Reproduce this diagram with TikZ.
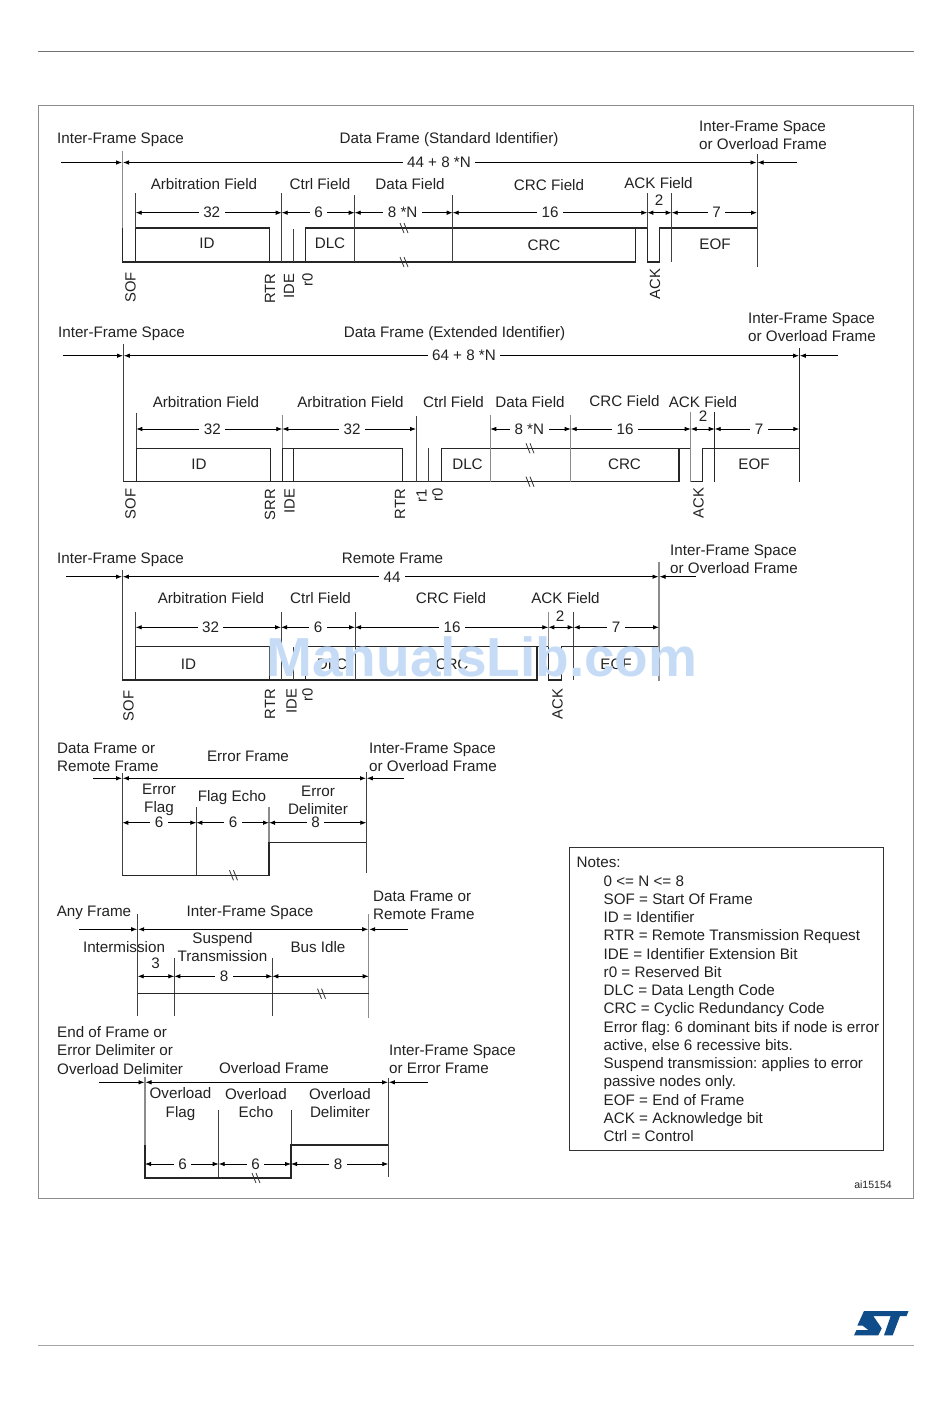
\documentclass[tikz,border=0pt]{standalone}
\usepackage{fontspec}
\setmainfont{Liberation Sans}
\usetikzlibrary{arrows.meta}
\frenchspacing

\definecolor{inkgray}{HTML}{222222}
\definecolor{stblue}{HTML}{0F4C8A}
\definecolor{wmblue}{HTML}{C6DCF6}
\tikzset{
  lbase/.style={inner sep=0pt, text=inkgray, font=\fontsize{15.2}{18.25}\selectfont},
  lbl/.style={lbase, text height=11pt, text depth=0pt},
  lblm/.style={lbase, align=center},
  lbll/.style={lbase, align=left, anchor=west, yshift=-0.5pt},
  num/.style={lbl, fill=white, inner xsep=4.5pt, inner ysep=1pt},
  vlbl/.style={lbl, rotate=90, anchor=east, xshift=-0.7pt, font=\fontsize{14.8}{17}\selectfont},
  sig/.style={line width=1.2pt, draw=black!85},
  tick/.style={line width=1pt, draw=black!75},
  tickg/.style={line width=1.2pt, draw=black!45},
  dim/.style={line width=0.8pt, draw=black, {Latex[length=6pt,width=4.5pt]}-{Latex[length=6pt,width=4.5pt]}},
  dimr/.style={line width=0.8pt, draw=black, -{Latex[length=6pt,width=4.5pt]}},
  brk/.style={line width=0.8pt, draw=black!80}
}
\newcommand{\brkmark}[2]{\draw[brk] (#1-3,#2-5) -- ++(4,10); \draw[brk] (#1+1,#2-5) -- ++(4,10);}

\begin{document}
\begin{tikzpicture}[x=1pt, y=-1pt]
    \useasboundingbox (0,0) rectangle (950,1420);
    \fill[white] (0,0) rectangle (950,1420);
    % page rules and frame
    \draw[line width=1pt, black!55] (38,51.5) -- (914,51.5);
    \draw[line width=1pt, black!35] (38,1345) -- (914,1345);
    \draw[line width=0.8pt, black!45] (38.5,105) rectangle (913.5,1198);

    % data frame, standard identifier
    \draw[tickg] (122.5,151) -- (122.5,228);
    \draw[sig] (122.5,228) -- (122.5,262) -- (135.7,262);
    \draw[sig] (135.7,262) -- (135.7,228) -- (269.7,228) -- (269.7,262);
    \draw[sig] (135.7,262) -- (635.3,262) -- (635.3,228);
    \draw[sig] (305.7,262) -- (305.7,228) -- (647.3,228) -- (647.3,262) -- (659.7,262) -- (659.7,228) -- (757,228);
    \draw[tick] (135.7,193) -- (135.7,228);
    \draw[tick] (281.7,193) -- (281.7,262);
    \draw[tick] (293.7,229) -- (293.7,262);
    \draw[tick] (354.7,195) -- (354.7,262);
    \draw[tick] (452.7,195) -- (452.7,262);
    \draw[tick] (647.3,193) -- (647.3,228);
    \draw[tick] (671.7,193) -- (671.7,262);
    \draw[tick] (757,154) -- (757,267);
    \brkmark{403}{228}
    \brkmark{403}{262}
    \draw[dimr] (61,162.5) -- (122,162.5);
    \draw[dim] (123,162.5) -- (756.5,162.5);
    \draw[dimr] (797,162.5) -- (757.5,162.5);
    \draw[dim] (135.7,212.7) -- (281.7,212.7);
    \draw[dim] (281.7,212.7) -- (354.7,212.7);
    \draw[dim] (354.7,212.7) -- (452.7,212.7);
    \draw[dim] (452.7,212.7) -- (647.3,212.7);
    \draw[dim] (647.3,212.7) -- (671.7,212.7);
    \draw[dim] (671.7,212.7) -- (757,212.7);
    \node[num] (lenA) at (439,162) {44 + 8 *N};
    \node[num] (arbA) at (211.7,212) {32};
    \node[num] (ctlA) at (318.7,212) {6};
    \node[num] (datA) at (402.7,212) {8 *N};
    \node[num] (crcA) at (550,212) {16};
    \node[lbl] (ackA) at (659,200) {2};
    \node[num] (eofA) at (716.7,212) {7};
    \node[lbl] (prevA) at (120.5,138) {Inter-Frame Space};
    \node[lbl] (nameA) at (449,138) {Data Frame (Standard Identifier)};
    \node[lbll] (nextA) at (699,134.5) {Inter-Frame Space\\or Overload Frame};
    \node[lbl] (farbA) at (204,184) {Arbitration Field};
    \node[lbl] (fctlA) at (320,184) {Ctrl Field};
    \node[lbl] (fdatA) at (410,184) {Data Field};
    \node[lbl] (fcrcA) at (549,185) {CRC Field};
    \node[lbl] (fackA) at (658.5,183) {ACK Field};
    \node[lbl] (idA) at (207,243) {ID};
    \node[lbl] (dlcA) at (330,243) {DLC};
    \node[lbl] (crA) at (544,245.5) {CRC};
    \node[lbl] (efA) at (715,244) {EOF};
    \node[vlbl] (sofA) at (130,271.5) {SOF};
    \node[vlbl] (rtrA) at (269.5,272.5) {RTR};
    \node[vlbl] (ideA) at (288.5,273) {IDE};
    \node[vlbl] (rzA) at (307,272) {r0};
    \node[vlbl] (akA) at (654.5,268) {ACK};

    % data frame, extended identifier
    \draw[tick] (123.3,344) -- (123.3,481.7);
    \draw[sig] (123.3,481.7) -- (679,481.7) -- (679,448.3) -- (441.3,448.3) -- (441.3,481.7);
    \draw[sig] (136.3,481.7) -- (136.3,448.3) -- (270.7,448.3) -- (270.7,481.7);
    \draw[sig] (293.3,481.7) -- (293.3,448.3) -- (402.3,448.3) -- (402.3,481.7);
    \draw[sig] (282.3,481.7) -- (282.3,448.3) -- (293.3,448.3);
    \draw[sig] (679,448.3) -- (690.7,448.3) -- (690.7,481.7) -- (702.7,481.7) -- (702.7,448.3) -- (799.3,448.3);
    \draw[tick] (136.3,412.7) -- (136.3,448.3);
    \draw[tickg] (282.3,415) -- (282.3,448.3);
    \draw[tick] (416,416) -- (416,481.7);
    \draw[tick] (428.3,448.3) -- (428.3,481.7);
    \draw[tickg] (490.3,415) -- (490.3,481.7);
    \draw[tickg] (570.7,415) -- (570.7,481.7);
    \draw[tickg] (690.7,411.7) -- (690.7,481.7);
    \draw[sig] (714.7,411.7) -- (714.7,481.7);
    \draw[sig] (799.3,348) -- (799.3,481.7);
    \brkmark{529}{448.3}
    \brkmark{529}{481.7}
    \draw[dimr] (62.7,355.7) -- (123,355.7);
    \draw[dim] (123.8,355.7) -- (799,355.7);
    \draw[dimr] (838,355.7) -- (799.8,355.7);
    \draw[dim] (136.3,429) -- (282.3,429);
    \draw[dim] (282.3,429) -- (416,429);
    \draw[dim] (490.3,429) -- (570.7,429);
    \draw[dim] (570.7,429) -- (690.7,429);
    \draw[dim] (690.7,429) -- (714.7,429);
    \draw[dim] (714.7,429) -- (799.3,429);
    \node[num] (lenB) at (464,355) {64 + 8 *N};
    \node[num] (arbB) at (212.3,429) {32};
    \node[num] (abxB) at (352,429) {32};
    \node[num] (datB) at (529.3,429) {8 *N};
    \node[num] (crcB) at (625,429) {16};
    \node[lbl] (ackB) at (703,416) {2};
    \node[num] (eofB) at (759,429) {7};
    \node[lbl] (prevB) at (121.5,332) {Inter-Frame Space};
    \node[lbl] (nameB) at (454.5,332) {Data Frame (Extended Identifier)};
    \node[lbll] (nextB) at (748,326.5) {Inter-Frame Space\\or Overload Frame};
    \node[lbl] (farbB) at (206,402) {Arbitration Field};
    \node[lbl] (fabxB) at (350.5,402) {Arbitration Field};
    \node[lbl] (fctlB) at (453.5,402) {Ctrl Field};
    \node[lbl] (fdatB) at (530,402) {Data Field};
    \node[lbl] (fcrcB) at (624.5,401) {CRC Field};
    \node[lbl] (fackB) at (703,402) {ACK Field};
    \node[lbl] (idB) at (199,464) {ID};
    \node[lbl] (dlcB) at (467.5,464) {DLC};
    \node[lbl] (crB) at (624.5,464) {CRC};
    \node[lbl] (efB) at (754,464) {EOF};
    \node[vlbl] (sofB) at (130,488) {SOF};
    \node[vlbl] (srrB) at (269.5,488) {SRR};
    \node[vlbl] (ideB) at (289,488) {IDE};
    \node[vlbl] (rtrB) at (399.5,488) {RTR};
    \node[vlbl] (roB) at (421,488) {r1};
    \node[vlbl] (rzB) at (437,487) {r0};
    \node[vlbl] (akB) at (698,487) {ACK};

    % remote frame
    \draw[tick] (122.3,570) -- (122.3,680);
    \draw[sig] (122.3,680) -- (537,680) -- (537,646.7);
    \draw[sig] (135.7,680) -- (135.7,646.7) -- (269.7,646.7) -- (269.7,680);
    \draw[sig] (305.3,680) -- (305.3,646.7) -- (548.3,646.7) -- (548.3,680) -- (561.3,680) -- (561.3,646.7) -- (659,646.7);
    \draw[tick] (135.7,611.7) -- (135.7,646.7);
    \draw[tick] (281,611.7) -- (281,680);
    \draw[tick] (293.7,647) -- (293.7,680);
    \draw[tick] (355,611.7) -- (355,680);
    \draw[tickg] (548.3,611.7) -- (548.3,646.7);
    \draw[tick] (573.7,611.7) -- (573.7,680);
    \draw[tickg] (659,562) -- (659,680.7);
    \draw[dimr] (66,576.7) -- (122,576.7);
    \draw[dim] (122.8,576.7) -- (658.5,576.7);
    \draw[dimr] (696,576.7) -- (659.5,576.7);
    \draw[dim] (135.7,627.3) -- (281,627.3);
    \draw[dim] (281,627.3) -- (355,627.3);
    \draw[dim] (355,627.3) -- (548.3,627.3);
    \draw[dim] (548.3,627.3) -- (573.7,627.3);
    \draw[dim] (573.7,627.3) -- (659,627.3);
    \node[num] (lenC) at (392,577) {44};
    \node[num] (arbC) at (210.5,627) {32};
    \node[num] (ctlC) at (318,627) {6};
    \node[num] (crcC) at (452,627) {16};
    \node[lbl] (ackC) at (560,616) {2};
    \node[num] (eofC) at (616,627) {7};
    \node[lbl] (prevC) at (120.5,558) {Inter-Frame Space};
    \node[lbl] (nameC) at (392.5,558) {Remote Frame};
    \node[lbll] (nextC) at (670,558.5) {Inter-Frame Space\\or Overload Frame};
    \node[lbl] (farbC) at (211,598) {Arbitration Field};
    \node[lbl] (fctlC) at (320.5,598) {Ctrl Field};
    \node[lbl] (fcrcC) at (451,598) {CRC Field};
    \node[lbl] (fackC) at (565.5,598) {ACK Field};
    \node[lbl] (idC) at (188.5,664) {ID};
    \node[lbl] (dlcC) at (332,664) {DLC};
    \node[lbl] (crC) at (452,664) {CRC};
    \node[lbl] (efC) at (616,664) {EOF};
    \node[vlbl] (sofC) at (128,690) {SOF};
    \node[vlbl] (rtrC) at (269.5,688) {RTR};
    \node[vlbl] (ideC) at (291,688) {IDE};
    \node[vlbl] (rzC) at (307,687) {r0};
    \node[vlbl] (akC) at (557,688) {ACK};
    \node[inner sep=0pt, text=wmblue, font=\fontsize{55}{60}\selectfont\bfseries] (wmark) at (482,656.5) {ManualsLib.com};

    % error frame
    \draw[tick] (122.3,773) -- (122.3,875.3);
    \draw[tick] (196.3,807.3) -- (196.3,875.3);
    \draw[tickg] (269,807.3) -- (269,842.3);
    \draw[sig] (122.3,875.3) -- (269,875.3) -- (269,842.3) -- (366.3,842.3);
    \draw[tick] (366.3,772) -- (366.3,873.3);
    \brkmark{232.5}{875.3}
    \draw[dimr] (93.3,778.3) -- (122,778.3);
    \draw[dim] (122.8,778.3) -- (366,778.3);
    \draw[dimr] (404,778.3) -- (366.8,778.3);
    \draw[dim] (122.3,822.7) -- (196.3,822.7);
    \draw[dim] (196.3,822.7) -- (269,822.7);
    \draw[dim] (269,822.7) -- (366.3,822.7);
    \node[num] (flagD) at (159,822) {6};
    \node[num] (echoD) at (233,822) {6};
    \node[num] (delD) at (315.5,822) {8};
    \node[lbll] (prevD) at (57,756.5) {Data Frame or\\Remote Frame};
    \node[lbl] (nameD) at (248,756) {Error Frame};
    \node[lbll] (nextD) at (369,756.5) {Inter-Frame Space\\or Overload Frame};
    \node[lblm] (fflagD) at (159,799.5) {Error\\Flag};
    \node[lbl] (fechoD) at (232,796) {Flag Echo};
    \node[lblm] (fdelD) at (318,800) {Error\\Delimiter};

    % inter-frame space
    \draw[tick] (137.7,914) -- (137.7,1015.7);
    \draw[tick] (174.3,958) -- (174.3,1015.7);
    \draw[tick] (272.3,958) -- (272.3,1015.7);
    \draw[tickg] (368.7,914) -- (368.7,1017.7);
    \draw[sig] (137.7,993.7) -- (368.7,993.7);
    \brkmark{320.5}{993.7}
    \draw[dimr] (79,929.3) -- (137.2,929.3);
    \draw[dim] (138.2,929.3) -- (368.2,929.3);
    \draw[dimr] (408,929.3) -- (369.2,929.3);
    \draw[dim] (137.7,976.3) -- (174.3,976.3);
    \draw[dim] (174.3,976.3) -- (272.3,976.3);
    \draw[dim] (272.3,976.3) -- (368.7,976.3);
    \node[lbl] (interE) at (155.7,963) {3};
    \node[num] (suspE) at (224,976) {8};
    \node[lbl] (prevE) at (94,911) {Any Frame};
    \node[lbl] (nameE) at (250,911) {Inter-Frame Space};
    \node[lbll] (nextE) at (373,905) {Data Frame or\\Remote Frame};
    \node[lbl] (fintE) at (124,947) {Intermission};
    \node[lblm] (fsusE) at (222.5,947) {Suspend\\Transmission};
    \node[lbl] (fbusE) at (318,947) {Bus Idle};

    % overload frame
    \draw[tickg] (145,1077) -- (145,1145);
    \draw[tick] (218.7,1110) -- (218.7,1178);
    \draw[tick] (291,1110) -- (291,1145);
    \draw[sig] (145,1145) -- (145,1178) -- (291,1178) -- (291,1145) -- (388.3,1145);
    \draw[tick] (388.3,1078) -- (388.3,1176.7);
    \brkmark{255}{1178}
    \draw[dimr] (99,1082.3) -- (144.5,1082.3);
    \draw[dim] (145.5,1082.3) -- (388,1082.3);
    \draw[dimr] (428,1082.3) -- (388.8,1082.3);
    \draw[dim] (145,1164) -- (218.7,1164);
    \draw[dim] (218.7,1164) -- (291,1164);
    \draw[dim] (291,1164) -- (388.3,1164);
    \node[num] (flagF) at (182.5,1163.5) {6};
    \node[num] (echoF) at (255.7,1163.5) {6};
    \node[num] (delF) at (338,1163.5) {8};
    \node[lbll] (prevF) at (57,1050) {End of Frame or\\Error Delimiter or\\Overload Delimiter};
    \node[lbl] (nameF) at (274,1068) {Overload Frame};
    \node[lbll] (nextF) at (389,1058.5) {Inter-Frame Space\\or Error Frame};
    \node[lblm] (fflagF) at (180.5,1104) {Overload\\Flag};
    \node[lblm] (fechoF) at (256,1103) {Overload\\Echo};
    \node[lblm] (fdelF) at (340,1103) {Overload\\Delimiter};

    % notes
    \draw[line width=0.8pt, black!80] (569.5,847.5) rectangle (883.5,1150.5);
    \node[lbase, align=left, anchor=north west] (notes) at (576.5,857.3) {Notes:\\
      \hspace*{27pt}0 <= N <= 8\\
      \hspace*{27pt}SOF = Start Of Frame\\
      \hspace*{27pt}ID = Identifier\\
      \hspace*{27pt}RTR = Remote Transmission Request\\
      \hspace*{27pt}IDE = Identifier Extension Bit\\
      \hspace*{27pt}r0 = Reserved Bit\\
      \hspace*{27pt}DLC = Data Length Code\\
      \hspace*{27pt}CRC = Cyclic Redundancy Code\\
      \hspace*{27pt}Error flag: 6 dominant bits if node is error\\
      \hspace*{27pt}active, else 6 recessive bits.\\
      \hspace*{27pt}Suspend transmission: applies to error\\
      \hspace*{27pt}passive nodes only.\\
      \hspace*{27pt}EOF = End of Frame\\
      \hspace*{27pt}ACK = Acknowledge bit\\
      \hspace*{27pt}Ctrl = Control};
    \node[inner sep=0pt, text=inkgray, font=\fontsize{10.5}{12}\selectfont] (figref) at (873,1185) {ai15154};

    % logo
    \fill[stblue] (864,1311) -- (908.5,1311) -- (906.5,1316) -- (900,1316) -- (892.7,1335.3) -- (884,1335.3) -- (890.7,1316) -- (873.3,1316) -- (881.7,1328.3) -- (878.3,1335.3) -- (854,1335.3) -- (856.5,1330) -- (868.3,1330) -- (862.7,1325.7) -- (857.3,1325.7) -- cycle;
\end{tikzpicture}
\end{document}
